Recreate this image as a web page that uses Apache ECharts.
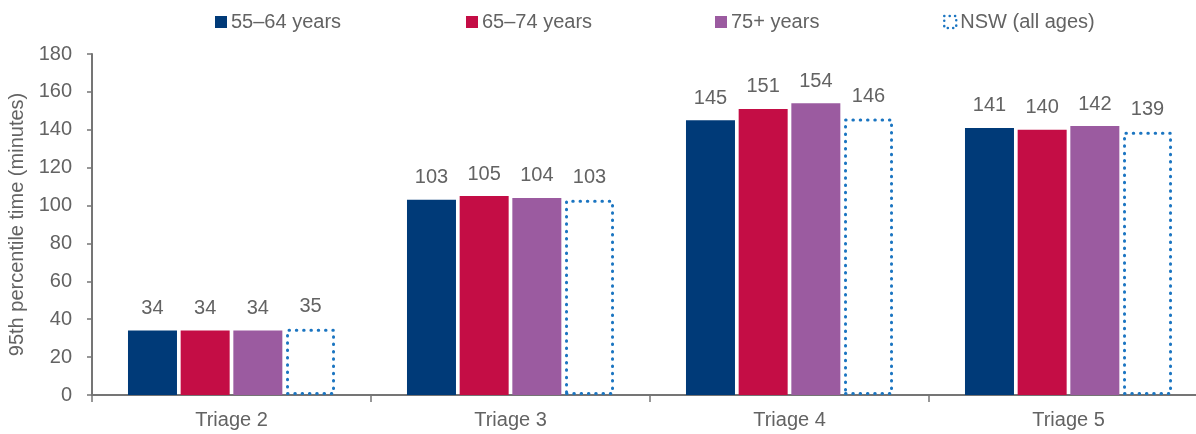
<!DOCTYPE html>
<html>
<head>
<meta charset="utf-8">
<script src="https://cdn.jsdelivr.net/npm/echarts@6/dist/echarts.min.js"></script>
<style>
html,body{margin:0;padding:0;background:#fff;}
#chart{width:1196px;height:434px;}
</style>
</head>
<body>
<div id="chart"></div>
<script>
var categories = ['Triage 2', 'Triage 3', 'Triage 4', 'Triage 5'];
var age55to64 = [34, 103, 145, 141];
var age65to74 = [34, 105, 151, 140];
var age75plus = [34, 104, 154, 142];
var nswAllAges = [35, 103, 146, 139];
var seriesNames = ['55–64 years', '65–74 years', '75+ years', 'NSW (all ages)'];
var yTicks = [0, 20, 40, 60, 80, 100, 120, 140, 160, 180];

var FONT = '"Liberation Sans", Arial, sans-serif';
var TXT = '#636363';
var AXIS = '#757575';
var colors = ['#003a78', '#c40d45', '#9b5ba0', '#1b75c1'];
var FS = 20;

var chart = echarts.init(document.getElementById('chart'), null, {renderer: 'canvas'});

var labelCfg = {
  show: true, position: 'top', distance: 12,
  color: TXT, fontSize: FS, fontFamily: FONT
};

function legendAt(name, left, extraStyle) {
  var l = {
    data: [name], left: left, top: 12, padding: 0,
    itemWidth: 12, itemHeight: 12, icon: 'rect',
    textStyle: {color: TXT, fontSize: FS, fontFamily: FONT, padding: [0, 0, 0, -1]},
    selectedMode: false
  };
  if (extraStyle) l.itemStyle = extraStyle;
  return l;
}

var solid = [age55to64, age65to74, age75plus];
var series = solid.map(function (d, i) {
  return {
    name: seriesNames[i], type: 'bar', data: d,
    barWidth: 49, barGap: '7.5%',
    itemStyle: {color: colors[i]},
    label: labelCfg
  };
});
series.push({
  name: seriesNames[3], type: 'bar', data: nswAllAges,
  barWidth: 49, barGap: '7.5%',
  itemStyle: {
    color: '#ffffff', borderColor: colors[3], borderWidth: 3,
    borderType: [0.5, 6.8], borderCap: 'round'
  },
  label: labelCfg
});

chart.setOption({
  animation: false,
  textStyle: {fontFamily: FONT},
  legend: [
    legendAt(seriesNames[0], 215),
    legendAt(seriesNames[1], 466),
    legendAt(seriesNames[2], 715),
    legendAt(seriesNames[3], 943, {
      color: '#ffffff', borderColor: colors[3], borderWidth: 2.5,
      borderType: [0.1, 5.3], borderCap: 'round'
    })
  ],
  grid: {left: 92, top: 54, width: 1116, height: 341, containLabel: false, outerBoundsMode: 'none'},
  xAxis: {
    type: 'category', data: categories,
    axisLine: {show: true, lineStyle: {color: AXIS, width: 2}},
    axisTick: {show: true, length: 7, lineStyle: {color: AXIS, width: 1.5}},
    axisLabel: {color: TXT, fontSize: FS, fontFamily: FONT, margin: 15}
  },
  yAxis: {
    type: 'value', min: yTicks[0], max: yTicks[yTicks.length - 1], interval: 20,
    name: '95th percentile time (minutes)', nameLocation: 'middle', nameGap: 56,
    nameTextStyle: {color: TXT, fontSize: FS, fontFamily: FONT},
    axisLine: {show: true, lineStyle: {color: AXIS, width: 2}},
    axisTick: {show: true, length: 5, lineStyle: {color: AXIS, width: 1.5}},
    axisLabel: {color: TXT, fontSize: FS, fontFamily: FONT, margin: 20},
    splitLine: {show: false}
  },
  series: series
});
</script>
</body>
</html>
